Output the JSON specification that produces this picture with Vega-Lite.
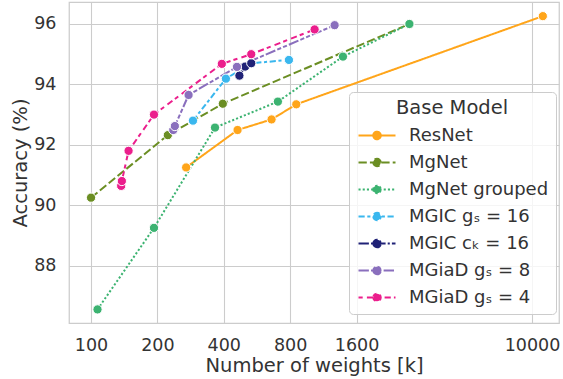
{
  "$schema": "https://vega.github.io/schema/vega-lite/v6.json",
  "width": 490,
  "height": 321,
  "autosize": {"type": "none"},
  "padding": {"left": 69, "top": 2, "right": 4, "bottom": 56},
  "background": "white",
  "config": {
    "font": "DejaVu Sans",
    "view": {"stroke": "#cccccc", "strokeWidth": 1.25},
    "axis": {
      "grid": true, "gridColor": "#cccccc", "gridWidth": 1.1,
      "domain": false, "ticks": false,
      "labelFont": "DejaVu Sans", "labelFontSize": 17.5, "labelColor": "#333333",
      "titleFont": "DejaVu Sans", "titleFontSize": 19.5, "titleFontWeight": "normal", "titleColor": "#333333"
    },
    "legend": {
      "orient": "none", "legendX": 280, "legendY": 90,
      "fillColor": "rgba(255,255,255,0.8)", "strokeColor": "#cccccc", "cornerRadius": 4, "padding": 7,
      "titleFont": "DejaVu Sans", "titleFontSize": 19.5, "titleFontWeight": "normal", "titleColor": "#333333",
      "titleAnchor": "middle", "titlePadding": 8,
      "labelFont": "DejaVu Sans", "labelFontSize": 18, "labelColor": "#333333",
      "symbolType": "M-3.7,0L3.7,0M-0.75,0A0.75,0.75,0,1,0,0.75,0A0.75,0.75,0,1,0,-0.75,0Z",
      "symbolSize": 100, "symbolStrokeWidth": 2, "symbolOffset": 12, "labelOffset": 23, "rowPadding": 9
    }
  },
  "data": {
    "values": [
      {"series": "ResNet", "w": 270, "acc": 91.25},
      {"series": "ResNet", "w": 462, "acc": 92.49},
      {"series": "ResNet", "w": 659, "acc": 92.84},
      {"series": "ResNet", "w": 853, "acc": 93.34},
      {"series": "ResNet", "w": 11200, "acc": 96.26},
      {"series": "MgNet", "w": 100, "acc": 90.25},
      {"series": "MgNet", "w": 223, "acc": 92.32},
      {"series": "MgNet", "w": 396, "acc": 93.36},
      {"series": "MgNet", "w": 2780, "acc": 96.0},
      {"series": "MgNet grouped", "w": 107, "acc": 86.55},
      {"series": "MgNet grouped", "w": 193, "acc": 89.25},
      {"series": "MgNet grouped", "w": 365, "acc": 92.57},
      {"series": "MgNet grouped", "w": 704, "acc": 93.43},
      {"series": "MgNet grouped", "w": 1389, "acc": 94.92},
      {"series": "MgNet grouped", "w": 2780, "acc": 96.0},
      {"series": "MGIC gₛ = 16", "w": 290, "acc": 92.80},
      {"series": "MGIC gₛ = 16", "w": 409, "acc": 94.19},
      {"series": "MGIC gₛ = 16", "w": 533, "acc": 94.70},
      {"series": "MGIC gₛ = 16", "w": 790, "acc": 94.81},
      {"series": "MGIC cₖ = 16", "w": 471, "acc": 94.29},
      {"series": "MGIC cₖ = 16", "w": 500, "acc": 94.59},
      {"series": "MGIC cₖ = 16", "w": 533, "acc": 94.70},
      {"series": "MGiaD gₛ = 8", "w": 236, "acc": 92.49},
      {"series": "MGiaD gₛ = 8", "w": 240, "acc": 92.62},
      {"series": "MGiaD gₛ = 8", "w": 277, "acc": 93.65},
      {"series": "MGiaD gₛ = 8", "w": 459, "acc": 94.58},
      {"series": "MGiaD gₛ = 8", "w": 1273, "acc": 95.96},
      {"series": "MGiaD gₛ = 4", "w": 137, "acc": 90.64},
      {"series": "MGiaD gₛ = 4", "w": 138, "acc": 90.80},
      {"series": "MGiaD gₛ = 4", "w": 148, "acc": 91.80},
      {"series": "MGiaD gₛ = 4", "w": 193, "acc": 93.0},
      {"series": "MGiaD gₛ = 4", "w": 392, "acc": 94.68},
      {"series": "MGiaD gₛ = 4", "w": 533, "acc": 95.0},
      {"series": "MGiaD gₛ = 4", "w": 1033, "acc": 95.82}
    ]
  },
  "encoding": {
    "x": {
      "field": "w", "type": "quantitative",
      "scale": {"type": "log", "domain": [79.45, 13260], "nice": false},
      "axis": {"values": [100, 200, 400, 800, 1600, 10000], "labelExpr": "datum.value", "labelPadding": 13,
               "title": "Number of weights [k]", "titleY": 48, "titleBaseline": "alphabetic"}
    },
    "y": {
      "field": "acc", "type": "quantitative",
      "scale": {"domain": [86.1, 96.728], "nice": false, "zero": false},
      "axis": {"values": [88, 90, 92, 94, 96], "format": "d", "labelPadding": 13,
               "title": "Accuracy (%)", "titleX": -43, "titleBaseline": "alphabetic"}
    },
    "color": {
      "field": "series", "type": "nominal",
      "scale": {
        "domain": ["ResNet", "MgNet", "MgNet grouped", "MGIC gₛ = 16", "MGIC cₖ = 16", "MGiaD gₛ = 8", "MGiaD gₛ = 4"],
        "range": ["#ffa51a", "#6b8e23", "#3cb371", "#3ab7ee", "#202277", "#8a6fbd", "#eb1e8c"]
      },
      "legend": {
        "title": "Base Model",
        "encode": {"symbols": {"update": {
          "fill": {"scale": "color", "field": "value"},
          "stroke": {"scale": "color", "field": "value"},
          "strokeDash": {"scale": "strokeDash", "field": "value"},
          "strokeWidth": {"value": 2}
        }}}
      }
    }
  },
  "layer": [
    {
      "mark": {"type": "line", "strokeWidth": 2, "strokeCap": "butt"},
      "encoding": {
        "strokeDash": {
          "field": "series", "type": "nominal",
          "scale": {
            "domain": ["ResNet", "MgNet", "MgNet grouped", "MGIC gₛ = 16", "MGIC cₖ = 16", "MGiaD gₛ = 8", "MGiaD gₛ = 4"],
            "range": [[1, 0], [8.3, 3.1], [2.1, 2.1], [6.2, 2.6, 3.1, 2.6], [10.4, 2.1, 2.1, 2.1], [10.4, 2.1, 4.2, 2.1, 4.2, 2.1], [4.2, 4.2, 6.2, 3.1]]
          },
          "legend": {"title": "Base Model"}
        }
      }
    },
    {
      "mark": {"type": "point", "filled": true, "size": 85, "stroke": "white", "strokeWidth": 1, "opacity": 1}
    }
  ]
}
